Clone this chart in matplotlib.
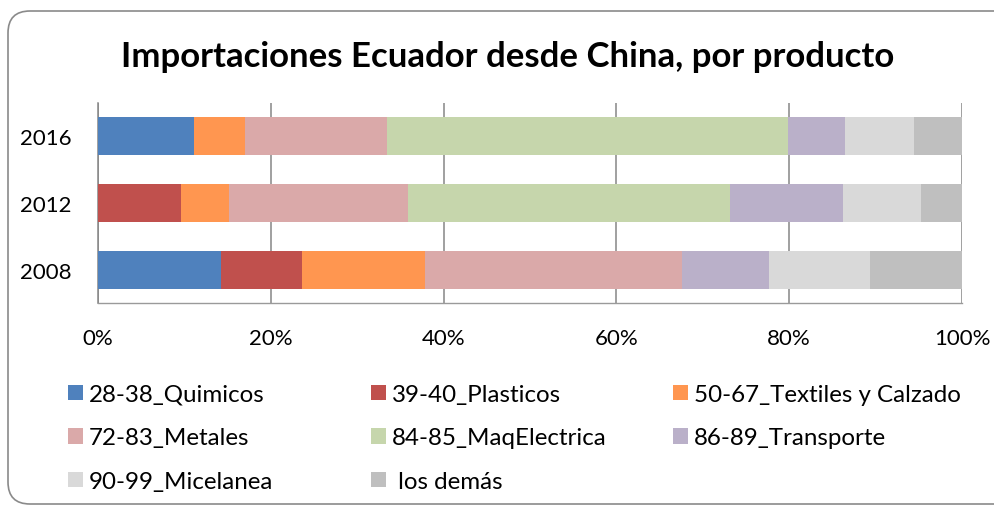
import matplotlib
matplotlib.use('Agg')
import matplotlib.pyplot as plt
from matplotlib.patches import FancyBboxPatch, Patch
from matplotlib.transforms import IdentityTransform
import numpy as np

# ---------------- data ----------------
years = ['2008', '2012', '2016']
series_names = ['28-38_Quimicos', '39-40_Plasticos', '50-67_Textiles y Calzado',
                '72-83_Metales', '84-85_MaqElectrica', '86-89_Transporte',
                '90-99_Micelanea', ' los demás']
quimicos = [14.2, 0.0, 11.15]
plasticos = [9.4, 9.6, 0.0]
textiles = [14.3, 5.6, 5.9]
metales = [29.7, 20.7, 16.35]
maq_electrica = [0.0, 37.2, 46.5]
transporte = [10.1, 13.1, 6.6]
micelanea = [11.7, 9.0, 8.0]
demas = [10.6, 4.8, 5.5]
x_ticks = [0, 20, 40, 60, 80, 100]
x_tick_labels = ['0%', '20%', '40%', '60%', '80%', '100%']
title = 'Importaciones Ecuador desde China, por producto'

series_values = [quimicos, plasticos, textiles, metales, maq_electrica,
                 transporte, micelanea, demas]
colors = ['#4F81BD', '#C0504D', '#FF9650', '#DAA9A9', '#C6D6AC',
          '#BAB0C9', '#D9D9D9', '#BFBFBF']

plt.rcParams['font.family'] = ['Lato', 'DejaVu Sans']

W, H = 995, 510
fig = plt.figure(figsize=(W / 100, H / 100), dpi=100)
fig.patch.set_facecolor('white')

# rounded chart frame (extends past right edge, like the reference)
frame = FancyBboxPatch((8, 5), 1040, 493,
                       boxstyle='round,pad=0,rounding_size=22',
                       transform=IdentityTransform(), fc='white',
                       ec='#8a8a8a', lw=1.2, zorder=-10)
fig.add_artist(frame)

ax = fig.add_axes([98 / W, (H - 304) / H, 864 / W, 200 / H])
ax.set_facecolor('none')

ypos = np.arange(len(years))
left = np.zeros(len(years))
for name, vals, col in zip(series_names, series_values, colors):
    vals = np.asarray(vals, dtype=float)
    ax.barh(ypos, vals, left=left, height=0.57, color=col, zorder=3,
            label=name, linewidth=0)
    left += vals

ax.set_xlim(0, 100)
ax.set_ylim(-0.5, 2.5)
ax.set_xticks(x_ticks)
ax.set_xticklabels(x_tick_labels)
ax.set_yticks(ypos)
ax.set_yticklabels(years)
ax.tick_params(length=0, labelsize=16, colors='black')
ax.tick_params(axis='y', pad=19)
ax.tick_params(axis='x', pad=18)
ax.grid(axis='x', color='#868686', lw=1.1, zorder=0)
ax.set_axisbelow(True)
for s in ['top', 'right']:
    ax.spines[s].set_visible(False)
ax.spines['left'].set_color('#868686')
ax.spines['left'].set_linewidth(1.1)
ax.spines['bottom'].set_color('#9a9a9a')
ax.spines['bottom'].set_linewidth(1.0)

fig.text(508 / W, (H - 67) / H, title, ha='center', va='baseline',
         fontsize=25, fontweight='bold', color='black')

# legend: three columns
fs = 17.4
fs_px = fs * 100 / 72
col_x = [68, 371, 673]
handles = [Patch(facecolor=c, edgecolor='none') for c in colors]
for c in range(3):
    idx = [i for i in range(c, len(series_names), 3)]
    fig.legend([handles[i] for i in idx], [series_names[i] for i in idx],
               loc='upper left', bbox_to_anchor=(col_x[c] / W, (H - 385) / H),
               frameon=False, borderpad=0, borderaxespad=0,
               handlelength=15 / fs_px, handleheight=15 / fs_px,
               handletextpad=6 / fs_px, labelspacing=0.93, fontsize=fs)

fig.savefig('out.png', dpi=100, facecolor='white')
